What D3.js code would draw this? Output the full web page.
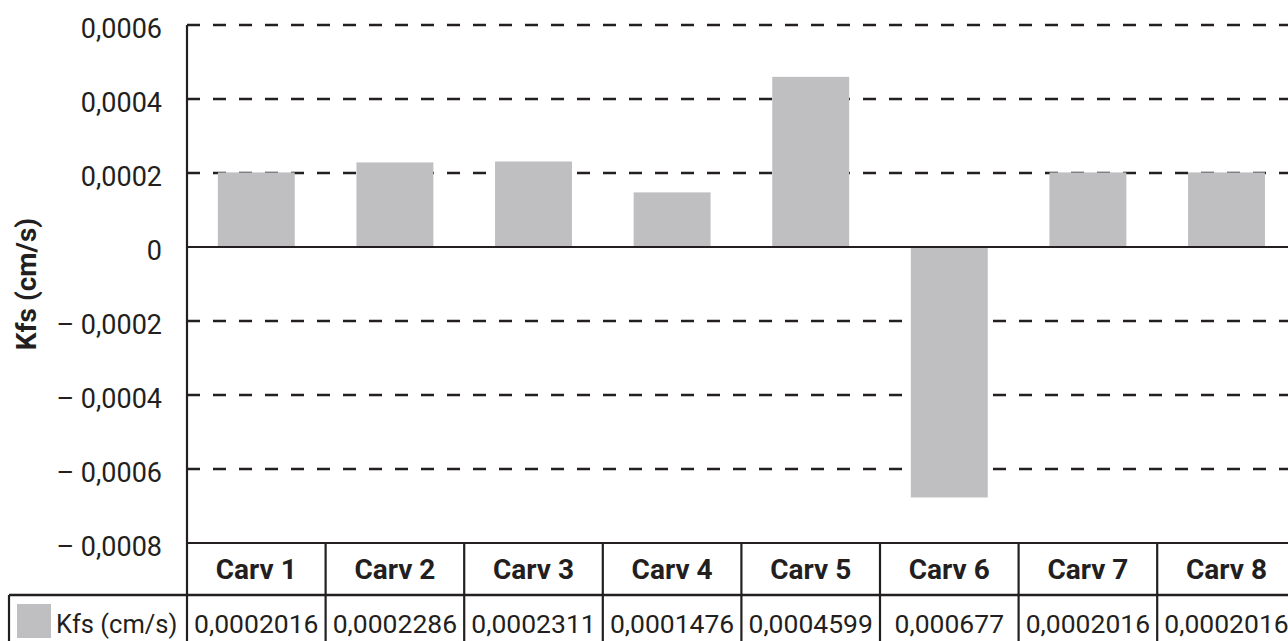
<!DOCTYPE html>
<html>
<head>
<meta charset="utf-8">
<script src="https://cdn.jsdelivr.net/npm/d3@7"></script>
<style>
  html, body { margin: 0; padding: 0; background: #ffffff; }
  svg { display: block; }
  text { font-family: Roboto, "Liberation Sans", Arial, sans-serif; fill: #231f20; }
</style>
</head>
<body>
<svg id="chart" width="1288" height="641"></svg>
<script>
// Saturated hydraulic conductivity per test pit
const categories = ["Carv 1", "Carv 2", "Carv 3", "Carv 4", "Carv 5", "Carv 6", "Carv 7", "Carv 8"];
const kfsValues = [0.0002016, 0.0002286, 0.0002311, 0.0001476, 0.0004599, -0.000677, 0.0002016, 0.0002016];
const kfsLabels = ["0,0002016", "0,0002286", "0,0002311", "0,0001476", "0,0004599", "0,000677", "0,0002016", "0,0002016"];
const seriesName = "Kfs (cm/s)";
const yTicks = [0.0006, 0.0004, 0.0002, 0, -0.0002, -0.0004, -0.0006, -0.0008];
const yTickLabels = ["0,0006", "0,0004", "0,0002", "0", "– 0,0002", "– 0,0004", "– 0,0006", "– 0,0008"];

const ink = "#231f20";
const barFill = "#bfbfc1";
const fontSize = 27;

const svg = d3.select("#chart");

const plotLeft = 187, plotTop = 25, plotBottom = 543;
const colWidth = 138.6;
const headerBottom = 595, tableBottom = 660;
const tableLeft = 9;

const x = d3.scaleBand()
  .domain(categories)
  .range([plotLeft, plotLeft + colWidth * categories.length])
  .paddingInner(0).paddingOuter(0);

const y = d3.scaleLinear()
  .domain([-0.0008, 0.0006])
  .range([plotBottom, plotTop]);

// Gridlines (dashed); the zero line is drawn solid below
svg.append("g")
  .selectAll("line")
  .data(yTicks.filter(d => d !== 0 && d !== -0.0008))
  .join("line")
  .attr("x1", plotLeft).attr("x2", 1300)
  .attr("y1", d => y(d)).attr("y2", d => y(d))
  .attr("stroke", ink)
  .attr("stroke-width", 2.4)
  .attr("stroke-dasharray", "13 13");

// Bars
const barW = x.bandwidth() * 0.555;
svg.append("g")
  .selectAll("rect")
  .data(categories.map((c, i) => ({ c, v: kfsValues[i] })))
  .join("rect")
  .attr("x", d => x(d.c) + (x.bandwidth() - barW) / 2)
  .attr("width", barW)
  .attr("y", d => Math.min(y(d.v), y(0)))
  .attr("height", d => Math.abs(y(d.v) - y(0)))
  .attr("fill", barFill);

// Zero line
svg.append("line")
  .attr("x1", plotLeft).attr("x2", 1300)
  .attr("y1", y(0)).attr("y2", y(0))
  .attr("stroke", ink).attr("stroke-width", 2.2);

// Y axis with labels
const yAxis = d3.axisLeft(y)
  .tickValues(yTicks)
  .tickSize(0)
  .tickPadding(25)
  .tickFormat((d, i) => yTickLabels[i]);

const yAxisG = svg.append("g")
  .attr("transform", `translate(${plotLeft},0)`)
  .call(yAxis);
yAxisG.select(".domain").remove();
yAxisG.selectAll("text")
  .attr("font-family", "Roboto, 'Liberation Sans', Arial, sans-serif")
  .attr("font-size", fontSize)
  .attr("fill", ink)
  .attr("dy", "0.45em");

// Axis line, continuing as the table's left edge in the header row
svg.append("line")
  .attr("x1", plotLeft).attr("x2", plotLeft)
  .attr("y1", plotTop).attr("y2", tableBottom)
  .attr("stroke", ink).attr("stroke-width", 2.2);

// Y axis title
svg.append("text")
  .attr("transform", `translate(36, ${(plotTop + plotBottom) / 2}) rotate(-90)`)
  .attr("text-anchor", "middle")
  .attr("font-size", 28)
  .attr("font-weight", "bold")
  .text(seriesName);

// Data table
const table = svg.append("g");

// Horizontal rules
table.append("line")
  .attr("x1", plotLeft).attr("x2", 1300)
  .attr("y1", plotBottom).attr("y2", plotBottom)
  .attr("stroke", ink).attr("stroke-width", 2.2);
table.append("line")
  .attr("x1", tableLeft).attr("x2", 1300)
  .attr("y1", headerBottom).attr("y2", headerBottom)
  .attr("stroke", ink).attr("stroke-width", 2.4);

// Column separators
table.selectAll("line.col")
  .data(categories)
  .join("line")
  .attr("class", "col")
  .attr("x1", d => x(d) + x.bandwidth()).attr("x2", d => x(d) + x.bandwidth())
  .attr("y1", plotBottom).attr("y2", tableBottom)
  .attr("stroke", ink).attr("stroke-width", 2.2);

// Left edge of the value row
table.append("line")
  .attr("x1", tableLeft).attr("x2", tableLeft)
  .attr("y1", headerBottom).attr("y2", tableBottom)
  .attr("stroke", ink).attr("stroke-width", 2.2);

// Header labels
table.selectAll("text.head")
  .data(categories)
  .join("text")
  .attr("class", "head")
  .attr("x", d => x(d) + x.bandwidth() / 2)
  .attr("y", 579)
  .attr("text-anchor", "middle")
  .attr("font-size", 28)
  .attr("font-weight", "bold")
  .text(d => d);

// Value labels
table.selectAll("text.val")
  .data(categories.map((c, i) => ({ c, t: kfsLabels[i] })))
  .join("text")
  .attr("class", "val")
  .attr("x", d => x(d.c) + x.bandwidth() / 2)
  .attr("y", 633)
  .attr("text-anchor", "middle")
  .attr("font-size", 26.5)
  .text(d => d.t);

// Legend key and series name
table.append("rect")
  .attr("x", 17).attr("y", 604)
  .attr("width", 34).attr("height", 34)
  .attr("fill", barFill);
table.append("text")
  .attr("x", 56).attr("y", 633)
  .attr("font-size", 25.5)
  .text(seriesName);
</script>
</body>
</html>
